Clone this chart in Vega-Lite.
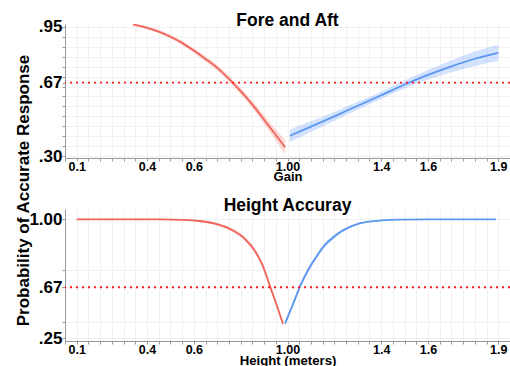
{
  "$schema": "https://vega.github.io/schema/vega-lite/v6.json",
  "padding": {"left": 13, "top": 12, "right": 0, "bottom": 0},
  "spacing": 51,
  "bounds": "flush",
  "datasets": {
    "fore": [
      {"x": 0.34, "p": 0.963, "lo": 0.957, "hi": 0.965, "side": "below"},
      {"x": 0.40, "p": 0.946, "lo": 0.938, "hi": 0.954, "side": "below"},
      {"x": 0.45, "p": 0.927, "lo": 0.918, "hi": 0.936, "side": "below"},
      {"x": 0.50, "p": 0.901, "lo": 0.891, "hi": 0.911, "side": "below"},
      {"x": 0.55, "p": 0.870, "lo": 0.859, "hi": 0.881, "side": "below"},
      {"x": 0.60, "p": 0.831, "lo": 0.819, "hi": 0.843, "side": "below"},
      {"x": 0.65, "p": 0.789, "lo": 0.776, "hi": 0.802, "side": "below"},
      {"x": 0.70, "p": 0.744, "lo": 0.730, "hi": 0.758, "side": "below"},
      {"x": 0.75, "p": 0.689, "lo": 0.674, "hi": 0.704, "side": "below"},
      {"x": 0.80, "p": 0.627, "lo": 0.611, "hi": 0.643, "side": "below"},
      {"x": 0.85, "p": 0.559, "lo": 0.540, "hi": 0.578, "side": "below"},
      {"x": 0.90, "p": 0.483, "lo": 0.461, "hi": 0.505, "side": "below"},
      {"x": 0.95, "p": 0.406, "lo": 0.378, "hi": 0.434, "side": "below"},
      {"x": 0.99, "p": 0.344, "lo": 0.308, "hi": 0.381, "side": "below"},
      {"x": 1.01, "p": 0.402, "lo": 0.370, "hi": 0.434, "side": "above"},
      {"x": 1.10, "p": 0.448, "lo": 0.421, "hi": 0.475, "side": "above"},
      {"x": 1.20, "p": 0.500, "lo": 0.478, "hi": 0.522, "side": "above"},
      {"x": 1.30, "p": 0.553, "lo": 0.533, "hi": 0.573, "side": "above"},
      {"x": 1.40, "p": 0.606, "lo": 0.588, "hi": 0.624, "side": "above"},
      {"x": 1.50, "p": 0.660, "lo": 0.640, "hi": 0.680, "side": "above"},
      {"x": 1.60, "p": 0.709, "lo": 0.685, "hi": 0.733, "side": "above"},
      {"x": 1.70, "p": 0.752, "lo": 0.722, "hi": 0.782, "side": "above"},
      {"x": 1.80, "p": 0.790, "lo": 0.754, "hi": 0.826, "side": "above"},
      {"x": 1.90, "p": 0.820, "lo": 0.778, "hi": 0.862, "side": "above"}
    ],
    "height": [
      {"x": 0.10, "p": 1.0, "lo": 0.999, "hi": 1.0, "side": "below"},
      {"x": 0.30, "p": 1.0, "lo": 0.999, "hi": 1.0, "side": "below"},
      {"x": 0.45, "p": 0.9995, "lo": 0.998, "hi": 1.0, "side": "below"},
      {"x": 0.555, "p": 0.998, "lo": 0.995, "hi": 1.0, "side": "below"},
      {"x": 0.626, "p": 0.993, "lo": 0.989, "hi": 0.997, "side": "below"},
      {"x": 0.698, "p": 0.980, "lo": 0.974, "hi": 0.986, "side": "below"},
      {"x": 0.767, "p": 0.953, "lo": 0.945, "hi": 0.961, "side": "below"},
      {"x": 0.819, "p": 0.915, "lo": 0.905, "hi": 0.925, "side": "below"},
      {"x": 0.861, "p": 0.860, "lo": 0.848, "hi": 0.872, "side": "below"},
      {"x": 0.891, "p": 0.797, "lo": 0.784, "hi": 0.810, "side": "below"},
      {"x": 0.925, "p": 0.678, "lo": 0.663, "hi": 0.693, "side": "below"},
      {"x": 0.955, "p": 0.550, "lo": 0.532, "hi": 0.568, "side": "below"},
      {"x": 0.981, "p": 0.408, "lo": 0.385, "hi": 0.432, "side": "below"},
      {"x": 0.990, "p": 0.414, "lo": 0.391, "hi": 0.438, "side": "above"},
      {"x": 1.025, "p": 0.569, "lo": 0.551, "hi": 0.587, "side": "above"},
      {"x": 1.054, "p": 0.677, "lo": 0.662, "hi": 0.692, "side": "above"},
      {"x": 1.096, "p": 0.783, "lo": 0.770, "hi": 0.796, "side": "above"},
      {"x": 1.125, "p": 0.835, "lo": 0.823, "hi": 0.847, "side": "above"},
      {"x": 1.153, "p": 0.880, "lo": 0.869, "hi": 0.891, "side": "above"},
      {"x": 1.196, "p": 0.923, "lo": 0.914, "hi": 0.932, "side": "above"},
      {"x": 1.224, "p": 0.945, "lo": 0.938, "hi": 0.952, "side": "above"},
      {"x": 1.267, "p": 0.968, "lo": 0.963, "hi": 0.973, "side": "above"},
      {"x": 1.338, "p": 0.989, "lo": 0.986, "hi": 0.992, "side": "above"},
      {"x": 1.481, "p": 0.999, "lo": 0.997, "hi": 1.0, "side": "above"},
      {"x": 1.60, "p": 1.0, "lo": 0.999, "hi": 1.0, "side": "above"},
      {"x": 1.89, "p": 1.0, "lo": 0.999, "hi": 1.0, "side": "above"}
    ]
  },
  "vconcat": [
    {
      "width": 445,
      "height": 134,
      "title": {"text": "Fore and Aft", "fontSize": 17.5, "baseline": "alphabetic", "offset": -26},
      "data": {"name": "fore"},
      "layer": [
        {
          "mark": {"type": "area", "opacity": 0.28, "clip": true, "interpolate": "monotone"},
          "encoding": {
            "x": {"field": "x", "type": "quantitative", "scale": {"domain": [0.05, 1.95], "nice": false, "zero": false},
              "axis": {"title": "Gain", "titleY": 22, "tickCount": 500,
                "values": [0.05, 0.1, 0.15, 0.2, 0.25, 0.3, 0.35, 0.4, 0.45, 0.5, 0.55, 0.6, 0.65, 0.7, 0.75, 0.8, 0.85, 0.9, 0.95, 1, 1.05, 1.1, 1.15, 1.2, 1.25, 1.3, 1.35, 1.4, 1.45, 1.5, 1.55, 1.6, 1.65, 1.7, 1.75, 1.8, 1.85, 1.9, 1.95],
                "labelExpr": "datum.value === 1 ? '1.00' : (datum.value === 0.1 || datum.value === 0.4 || datum.value === 0.6 || datum.value === 1.4 || datum.value === 1.6 || datum.value === 1.9) ? format(datum.value, '.1f') : ''",
                "labelPadding": -1}},
            "y": {"field": "lo", "type": "quantitative", "scale": {"domain": [0.29, 0.965], "nice": false, "zero": false},
              "axis": {"title": "Probability of Accurate Response", "titleX": -37, "titleY": 166, "titleAngle": 270, "titleBaseline": "alphabetic", "titleAlign": "center", "titleFontSize": 17, "tickCount": 500,
                "values": [0.3, 0.35, 0.4, 0.45, 0.5, 0.55, 0.6, 0.65, 0.67, 0.7, 0.75, 0.8, 0.85, 0.9, 0.95],
                "labelExpr": "datum.value === 0.3 ? '.30' : datum.value === 0.67 ? '.67' : datum.value === 0.95 ? '.95' : ''"}},
            "y2": {"field": "hi"},
            "color": {"field": "side", "type": "nominal", "scale": {"domain": ["below", "above"], "range": ["#f8766d", "#619cff"]}, "legend": null}
          }
        },
        {
          "mark": {"type": "line", "strokeWidth": 1.8, "clip": true, "interpolate": "monotone"},
          "encoding": {
            "x": {"field": "x", "type": "quantitative"},
            "y": {"field": "p", "type": "quantitative"},
            "color": {"field": "side", "type": "nominal", "scale": {"domain": ["below", "above"], "range": ["#f0645a", "#5b97f0"]}, "legend": null}
          }
        },
        {
          "data": {"values": [{}]},
          "mark": {"type": "rule", "color": "#ff1a1a", "strokeDash": [2, 4], "strokeWidth": 1.8},
          "encoding": {"y": {"datum": 0.67}}
        }
      ],
      "resolve": {"scale": {"color": "independent"}}
    },
    {
      "width": 445,
      "height": 132,
      "title": {"text": "Height Accuray", "fontSize": 17.5, "baseline": "alphabetic", "offset": -19},
      "data": {"name": "height"},
      "layer": [
        {
          "mark": {"type": "area", "opacity": 0.28, "clip": true, "interpolate": "monotone"},
          "encoding": {
            "x": {"field": "x", "type": "quantitative", "scale": {"domain": [0.05, 1.95], "nice": false, "zero": false},
              "axis": {"title": "Height (meters)", "titleY": 23, "titleFontSize": 13.2, "tickCount": 500,
                "values": [0.05, 0.1, 0.15, 0.2, 0.25, 0.3, 0.35, 0.4, 0.45, 0.5, 0.55, 0.6, 0.65, 0.7, 0.75, 0.8, 0.85, 0.9, 0.95, 1, 1.05, 1.1, 1.15, 1.2, 1.25, 1.3, 1.35, 1.4, 1.45, 1.5, 1.55, 1.6, 1.65, 1.7, 1.75, 1.8, 1.85, 1.9, 1.95],
                "labelExpr": "datum.value === 1 ? '1.00' : (datum.value === 0.1 || datum.value === 0.4 || datum.value === 0.6 || datum.value === 1.4 || datum.value === 1.6 || datum.value === 1.9) ? format(datum.value, '.1f') : ''",
                "labelPadding": -1}},
            "y": {"field": "lo", "type": "quantitative", "scale": {"type": "pow", "exponent": 1.88, "domain": [0.209, 1.042], "nice": false, "zero": false},
              "axis": {"title": null, "tickCount": 500,
                "values": [0.25, 0.426, 0.67, 0.766, 1],
                "labelExpr": "datum.value === 0.25 ? '.25' : datum.value === 0.67 ? '.67' : datum.value === 1 ? '1.00' : ''"}},
            "y2": {"field": "hi"},
            "color": {"field": "side", "type": "nominal", "scale": {"domain": ["below", "above"], "range": ["#f8766d", "#619cff"]}, "legend": null}
          }
        },
        {
          "mark": {"type": "line", "strokeWidth": 1.8, "clip": true, "interpolate": "monotone"},
          "encoding": {
            "x": {"field": "x", "type": "quantitative"},
            "y": {"field": "p", "type": "quantitative"},
            "color": {"field": "side", "type": "nominal", "scale": {"domain": ["below", "above"], "range": ["#f0645a", "#5b97f0"]}, "legend": null}
          }
        },
        {
          "data": {"values": [{}]},
          "mark": {"type": "rule", "color": "#ff1a1a", "strokeDash": [2, 4], "strokeWidth": 1.8},
          "encoding": {"y": {"datum": 0.67}}
        }
      ],
      "resolve": {"scale": {"color": "independent"}}
    }
  ],
  "config": {
    "font": "Liberation Sans",
    "view": {"stroke": null},
    "title": {"font": "Liberation Sans", "fontWeight": "bold", "color": "#000000", "anchor": "middle"},
    "axis": {
      "labelFont": "Liberation Sans", "labelFontWeight": "bold", "labelColor": "#000000",
      "titleFont": "Liberation Sans", "titleFontWeight": "bold", "titleColor": "#000000",
      "domainColor": "#999999", "tickColor": "#999999", "tickSize": 3,
      "gridColor": "#f1f1f1", "labelOverlap": false, "labelFlush": false, "labelBound": false
    },
    "axisX": {"labelFontSize": 12.5, "titleFontSize": 13, "titleBaseline": "alphabetic"},
    "axisY": {"labelFontSize": 17, "labelPadding": 0}
  }
}
